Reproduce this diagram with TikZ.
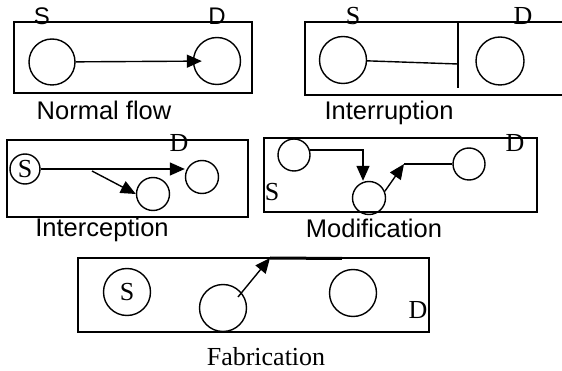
\documentclass[tikz,border=0pt]{standalone}
\usepackage{fontspec}
\setmainfont{Liberation Serif}
\newfontfamily\arialf{Liberation Sans}
\usetikzlibrary{arrows.meta}
\begin{document}
\begin{tikzpicture}[x=1pt,y=-1pt,
  box/.style={draw,line width=1.5pt},
  ln/.style={line width=1.4pt},
  arr/.style={line width=1.4pt,-{Triangle[length=15pt,width=13pt]}},
  circ/.style={draw,circle,line width=1.4pt,inner sep=0pt,minimum size=#1},
  lab/.style={inner sep=0pt,anchor=base,font=\fontsize{26}{30}\selectfont},
  slab/.style={inner sep=0pt,anchor=base,font=\arialf\fontsize{24}{29}\selectfont},
  captext/.style={inner sep=0pt,anchor=base,font=\arialf\fontsize{25.5}{30}\selectfont},
  captextr/.style={inner sep=0pt,anchor=base,font=\fontsize{26}{31}\selectfont}]
\useasboundingbox (0,0) rectangle (562,371);
% ---- Normal flow
\draw[box] (14,22) rectangle (252,93);
\node[slab] (s1l) at (42,25) {S};
\node[slab] (d1l) at (217,25) {D};
\node[circ=46pt] (s1) at (52,62) {};
\node[circ=47pt] (d1) at (217,61) {};
\draw[arr,shorten >=-9pt] (s1) -- (d1);
\node[captext] (c1) at (104,120) {Normal flow};
% ---- Interruption
\draw[box] (563,22) -- (305,22) -- (305,95) -- (563,95);
\coordinate (wt) at (458,22);
\coordinate (wb) at (458,88);
\coordinate (wall) at (458,64);
\draw[ln] (wt) -- (wb);
\node[lab] (s2l) at (353,25) {S};
\node[lab] (d2l) at (523,25) {D};
\node[circ=47pt] (s2) at (343,60) {};
\node[circ=48pt] (d2) at (500,61) {};
\draw[ln] (s2) -- (wall);
\node[captext] (c2) at (389,120) {Interruption};
% ---- Interception
\draw[box] (7,140) rectangle (248,217);
\node[circ=30pt,font=\fontsize{26}{30}\selectfont] (s3) at (25,169) {S};
\node[circ=33pt] (d3) at (202,177) {};
\node[circ=33pt] (c3) at (153,194) {};
\node[lab] (d3l) at (179,152) {D};
\coordinate (br3) at (92,171);
\draw[arr] (s3.east) -- (d3.west |- s3.east);
\draw[arr] (br3) -- (c3.west);
\node[captext] (c3t) at (102,237) {Interception};
% ---- Modification
\draw[box] (264,138) rectangle (537,212);
\node[circ=32pt] (a4) at (294,155) {};
\node[circ=33pt] (m4) at (369,198) {};
\node[circ=32pt] (d4) at (469,164) {};
\coordinate (tip4) at (404,164);
\draw[arr] (a4.18) -| ([xshift=-6pt]m4.north);
\draw[arr] (m4.23) -- (tip4);
\draw[ln] (tip4) -- (d4.west);
\node[lab] (s4l) at (272,201) {S};
\node[lab] (d4l) at (515,152) {D};
\node[captext] (c4) at (374,238) {Modification};
% ---- Fabrication
\draw[box] (78,258) rectangle (429,332);
\node[circ=47pt,font=\fontsize{26}{30}\selectfont] (s5) at (127,292) {S};
\node[circ=47pt] (f5) at (223,308) {};
\node[circ=47pt] (d5) at (353,293) {};
\coordinate (st5) at (238,297);
\coordinate (tip5) at (270,258);
\coordinate (end5) at (342,258.5);
\draw[arr] (st5) -- (tip5);
\draw[line width=3pt] (tip5) -- (end5);
\node[lab] (d5l) at (418,319) {D};
\node[captextr] (c5) at (266,365) {Fabrication};
\end{tikzpicture}
\end{document}
